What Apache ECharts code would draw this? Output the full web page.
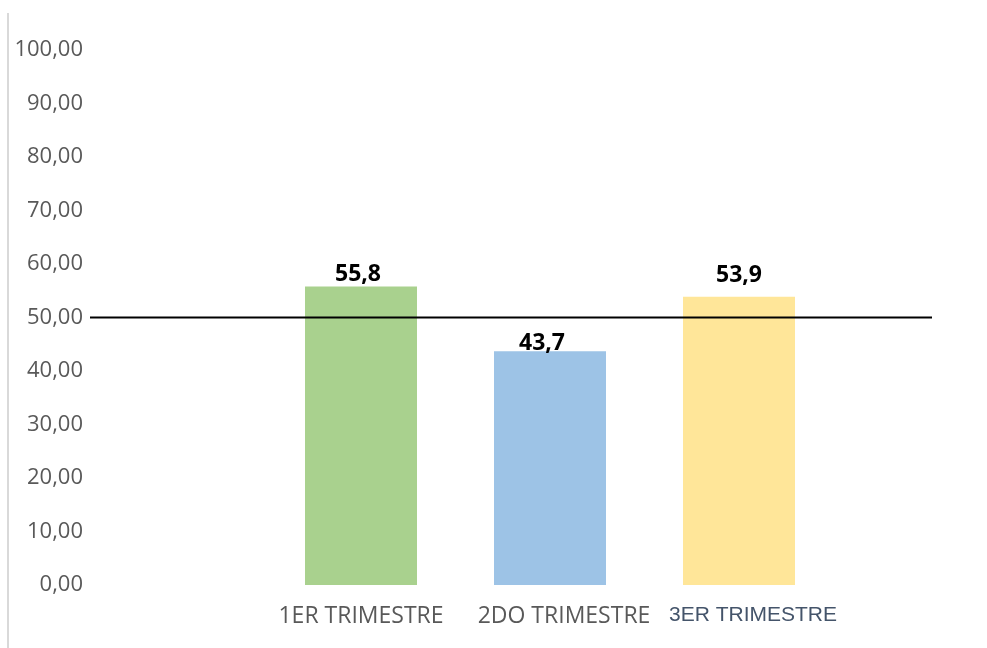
<!DOCTYPE html>
<html><head><meta charset="utf-8">
<script src="https://cdn.jsdelivr.net/npm/echarts@6/dist/echarts.min.js"></script>
<style>html,body{margin:0;padding:0;background:#fff}#c{width:987px;height:648px}</style>
</head><body><div id="c"></div>
<script>
const categories = ['1ER TRIMESTRE', '2DO TRIMESTRE', '3ER TRIMESTRE'];
const values = [55.8, 43.7, 53.9];
const valueLabels = ['55,8', '43,7', '53,9'];
const threshold = [50, 50];
const yTicks = [0, 10, 20, 30, 40, 50, 60, 70, 80, 90, 100];

const barColors = ['#a9d18e', '#9dc3e6', '#ffe699'];
const labelOffsets = [[-3, 0], [-8, 5], [0, -9]];
const catStyles = ['a', 'c', 'b'];

const chart = echarts.init(document.getElementById('c'), null, {renderer: 'canvas'});
chart.setOption({
  animation: false,
  backgroundColor: '#fff',
  graphic: [{type: 'line', shape: {x1: 8, y1: 13, x2: 8, y2: 648}, style: {stroke: '#d9d9d9', lineWidth: 2}}],
  grid: [
    {left: 266.5, right: 153.5, top: 50, bottom: 63},
    {left: 90, right: 55, top: 50, bottom: 63}
  ],
  xAxis: [
    {type: 'category', data: categories, gridIndex: 0,
     axisLine: {show: false}, axisTick: {show: false},
     axisLabel: {interval: 0, margin: 20, fontFamily: 'Open Sans', fontSize: 23, color: '#595959',
       formatter: (v, i) => '{' + catStyles[i] + '|' + v + '}',
       rich: {a: {fontFamily: 'Open Sans', fontSize: 23, color: '#595959'},
              c: {fontFamily: 'Open Sans', fontSize: 23, color: '#595959', padding: [0, 0, 0, 28]},
              b: {fontFamily: 'Liberation Sans', fontSize: 21, color: '#44546a', padding: [0, 0, 0, 28]}}}},
    {type: 'value', gridIndex: 1, min: 0, max: 1, show: false}
  ],
  yAxis: [
    {type: 'value', gridIndex: 0, min: yTicks[0], max: yTicks[yTicks.length - 1], interval: 10,
     splitLine: {show: false}, axisLine: {show: false}, axisTick: {show: false},
     axisLabel: {margin: 183.5, fontFamily: 'Open Sans', fontSize: 22, color: '#595959',
       formatter: v => v.toFixed(2).replace('.', ',')}},
    {type: 'value', gridIndex: 1, min: 0, max: 100, show: false}
  ],
  series: [
    {type: 'bar', xAxisIndex: 0, yAxisIndex: 0, barWidth: 112,
     data: values.map((v, i) => ({value: v, itemStyle: {color: barColors[i]},
       label: {offset: labelOffsets[i]}})),
     label: {show: true, position: 'top', distance: 1, color: '#000', fontWeight: 'bold',
       fontFamily: 'Open Sans', fontSize: 23, formatter: p => valueLabels[p.dataIndex]}},
    {type: 'line', xAxisIndex: 1, yAxisIndex: 1, symbol: 'none', z: 5,
     lineStyle: {color: '#000', width: 2},
     data: threshold.map((v, i) => [i, v])}
  ]
});
</script></body></html>
